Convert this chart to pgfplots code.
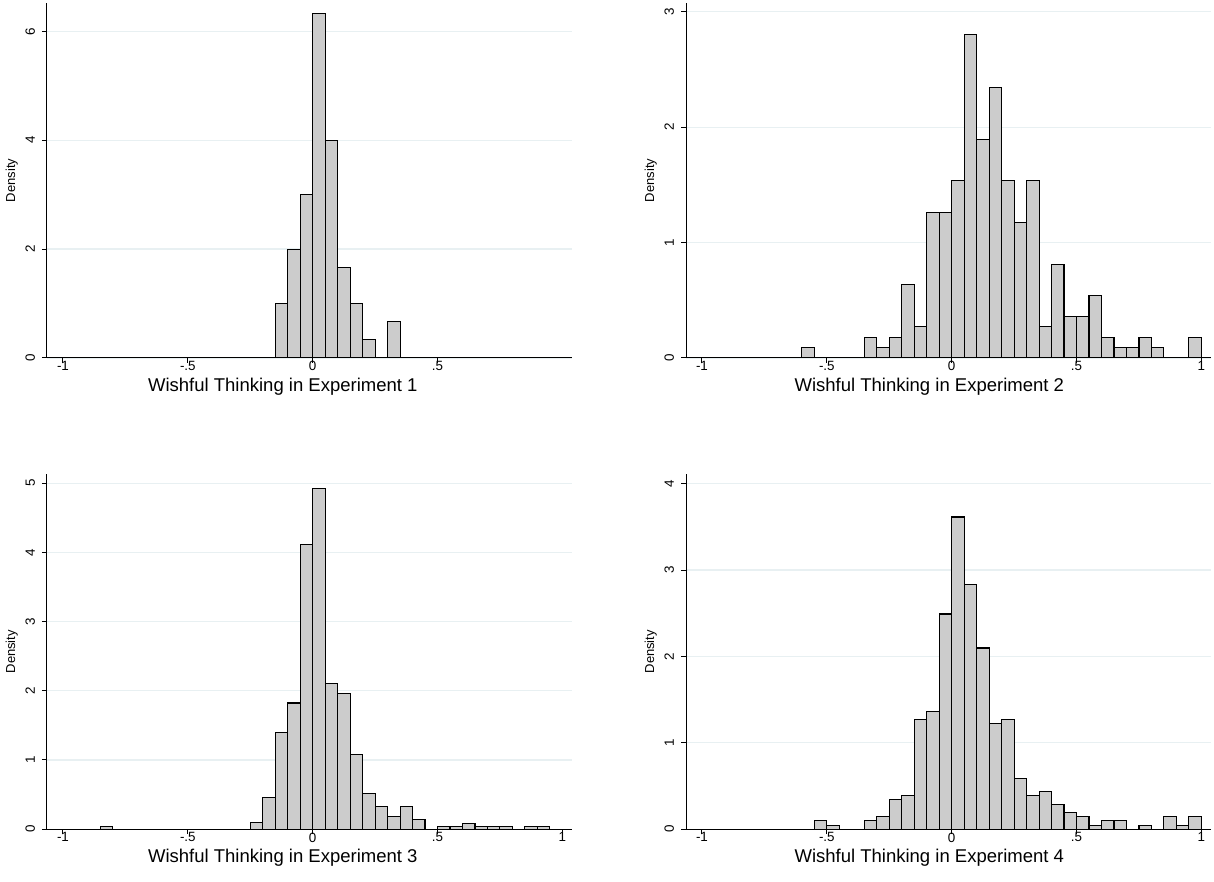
\documentclass[border=0pt]{standalone}
\usepackage{pgfplots}
\usepackage{pgfplotstable}
\pgfplotsset{compat=1.18}
\usepackage{fontspec}
\setmainfont{Liberation Sans}
\definecolor{barfill}{RGB}{204,204,204}
\definecolor{gridc}{RGB}{232,240,242}

\pgfplotstableread{
x y
-0.125 1.0
-0.075 2.0
-0.025 3.0
0.025 6.33
0.075 4.0
0.125 1.667
0.175 1.0
0.225 0.333
0.325 0.667
}\expA

\pgfplotstableread{
x y
-0.575 0.09
-0.325 0.18
-0.275 0.09
-0.225 0.18
-0.175 0.633
-0.125 0.27
-0.075 1.263
-0.025 1.263
0.025 1.535
0.075 2.80
0.125 1.896
0.175 2.347
0.225 1.535
0.275 1.173
0.325 1.535
0.375 0.27
0.425 0.812
0.475 0.358
0.525 0.358
0.575 0.54
0.625 0.18
0.675 0.09
0.725 0.09
0.775 0.18
0.825 0.09
0.975 0.18
}\expB

\pgfplotstableread{
x y
-0.825 0.039
-0.225 0.092
-0.175 0.463
-0.125 1.398
-0.075 1.823
-0.025 4.12
0.025 4.923
0.075 2.102
0.125 1.962
0.175 1.075
0.225 0.511
0.275 0.323
0.325 0.178
0.375 0.323
0.425 0.14
0.525 0.039
0.575 0.039
0.625 0.087
0.675 0.039
0.725 0.039
0.775 0.039
0.875 0.039
0.925 0.039
}\expC

\pgfplotstableread{
x y
-0.525 0.096
-0.475 0.042
-0.325 0.096
-0.275 0.143
-0.225 0.339
-0.175 0.39
-0.125 1.269
-0.075 1.361
-0.025 2.491
0.025 3.614
0.075 2.831
0.125 2.098
0.175 1.219
0.225 1.269
0.275 0.582
0.325 0.39
0.375 0.436
0.425 0.289
0.475 0.193
0.525 0.143
0.575 0.042
0.625 0.096
0.675 0.096
0.775 0.042
0.875 0.143
0.925 0.042
0.975 0.143
}\expD

\pgfplotsset{
  stata/.style={
    width=262.3pt, height=177.5pt, scale only axis,
    axis lines*=left,
    xmin=-1.064, xmax=1.037, ymin=0,
    tick align=outside, major tick length=2.5pt,
    tick style={black, line width=0.5pt},
    axis line style={black, line width=0.5pt},
    ymajorgrids, grid style={gridc, line width=0.6pt},
    tick label style={font=\fontsize{6.7}{8}\selectfont},
    xticklabel style={yshift=4.3pt},
    yticklabel style={rotate=90, anchor=south},
    ylabel={Density},
    ylabel style={font=\fontsize{6.5}{8}\selectfont, at={(axis description cs:-0.067,0.5)}, anchor=center},
    xlabel style={font=\fontsize{9.25}{11}\selectfont, anchor=center},
    ybar, bar width=0.05, bar shift=0pt,
    xtick={-1,-0.5,0,0.5,1}, xticklabels={-1,-.5,0,.5,1},
  },
  bars/.style={fill=barfill, draw=black, line width=0.55pt},
}

\begin{document}
\begin{tikzpicture}
\path[use as bounding box] (0,0) rectangle (607pt,441pt);

\begin{axis}[stata, at={(23.5pt,262pt)}, anchor=south west,
  ymax=6.52, ytick={0,2,4,6}, yticklabels={0,2,4,6},
  xtick={-1,-0.5,0,0.5}, xticklabels={-1,-.5,0,.5},
  xlabel={Wishful Thinking in Experiment 1},
  xlabel style={at={(axis description cs:0.4495,-0.08)}}]
\addplot[bars] table[x=x,y=y] {\expA};
\end{axis}

\begin{axis}[stata, at={(343pt,262pt)}, anchor=south west,
  ymax=3.076, ytick={0,1,2,3}, yticklabels={0,1,2,3},
  xlabel={Wishful Thinking in Experiment 2},
  xlabel style={at={(axis description cs:0.4637,-0.08)}}]
\addplot[bars] table[x=x,y=y] {\expB};
\end{axis}

\begin{axis}[stata, at={(23.5pt,26.4pt)}, anchor=south west,
  ymax=5.13, ytick={0,1,2,3,4,5}, yticklabels={0,1,2,3,4,5},
  xlabel={Wishful Thinking in Experiment 3},
  xlabel style={at={(axis description cs:0.4495,-0.08)}}]
\addplot[bars] table[x=x,y=y] {\expC};
\end{axis}

\begin{axis}[stata, at={(343pt,26.4pt)}, anchor=south west,
  ymax=4.11, ytick={0,1,2,3,4}, yticklabels={0,1,2,3,4},
  xlabel={Wishful Thinking in Experiment 4},
  xlabel style={at={(axis description cs:0.4637,-0.08)}}]
\addplot[bars] table[x=x,y=y] {\expD};
\end{axis}
\end{tikzpicture}
\end{document}
